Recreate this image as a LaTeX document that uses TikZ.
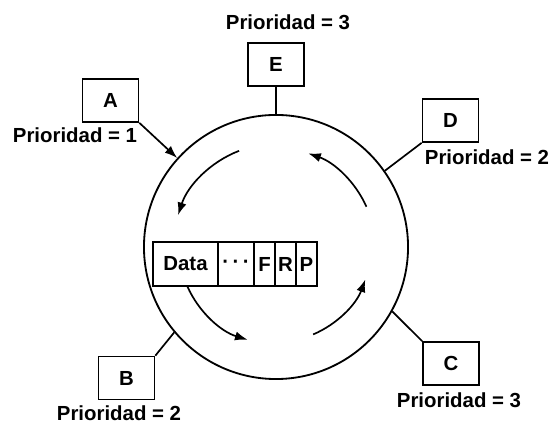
\documentclass[tikz,border=0pt]{standalone}
\usepackage{fontspec}
\setmainfont{Liberation Sans}
\usetikzlibrary{positioning, calc, arrows.meta}

\newcommand{\priofont}{\bfseries\fontsize{14.5}{17}\selectfont}
\tikzset{
  station/.style={draw, line width=1.2pt, minimum width=1.4cm, minimum height=1.075cm, font=\priofont},
  prio/.style={font=\priofont, inner sep=0pt},
  cell/.style={draw, line width=1pt, inner sep=0pt, outer sep=0pt, minimum height=1.1cm, font=\priofont},
  flow/.style={-{Latex[length=9pt, width=6.5pt]}, line width=1.2pt},
}

\begin{document}
\begin{tikzpicture}[x=0.025cm, y=0.025cm]
  \useasboundingbox (0,0) rectangle (552,425);

  % token ring
  \node[draw, circle, line width=1.3pt, minimum size=6.6cm, inner sep=0pt] (ring) at (276,178) {};

  % stations
  \node[station] (A) at (110.5,324.5) {A};
  \node[station] (E) at (276,360.5) {E};
  \node[station] (D) at (450.5,304.5) {D};
  \node[station] (C) at (451,61.5) {C};
  \node[station] (B) at (126.5,47) {B};

  \node[prio] (prioA) at (75,290) {Prioridad = 1};
  \node[prio] (prioE) at (288,403) {Prioridad = 3};
  \node[prio] (prioD) at (487,268) {Prioridad = 2};
  \node[prio] (prioC) at (459,25) {Prioridad = 3};
  \node[prio] (prioB) at (119,12) {Prioridad = 2};

  \draw[flow] (A.south east) -- (ring.138);
  \draw[line width=1.2pt] (E.south) -- (ring.north);
  \draw[line width=1.2pt] (D.south west) -- (ring.35);
  \draw[line width=1.2pt] (C.north west) -- (ring.-29);
  \draw[line width=1.2pt] (B.north east) -- (ring.220);

  % circulation inside the ring
  \draw[flow] ($(ring.center)+(111:103)$) arc[start angle=111, end angle=162, radius=103];
  \draw[flow] ($(ring.center)+(24:99)$) arc[start angle=24, end angle=71, radius=99];
  \draw[flow] ($(ring.center)+(-67:95)$) arc[start angle=-67, end angle=-20, radius=95];
  \draw[flow] ($(ring.center)+(204:97)$) arc[start angle=204, end angle=253, radius=97];

  % frame
  \node[cell, minimum width=1.625cm, anchor=west] (data) at (153,161) {Data};
  \node[cell, minimum width=0.9cm, right=0pt of data] (dots) {\raisebox{-0.25ex}{\textperiodcentered\,\textperiodcentered\,\textperiodcentered}};
  \node[cell, minimum width=0.525cm, right=0pt of dots] (F) {F};
  \node[cell, minimum width=0.525cm, right=0pt of F] (R) {R};
  \node[cell, minimum width=0.525cm, right=0pt of R] (P) {P};
\end{tikzpicture}
\end{document}
